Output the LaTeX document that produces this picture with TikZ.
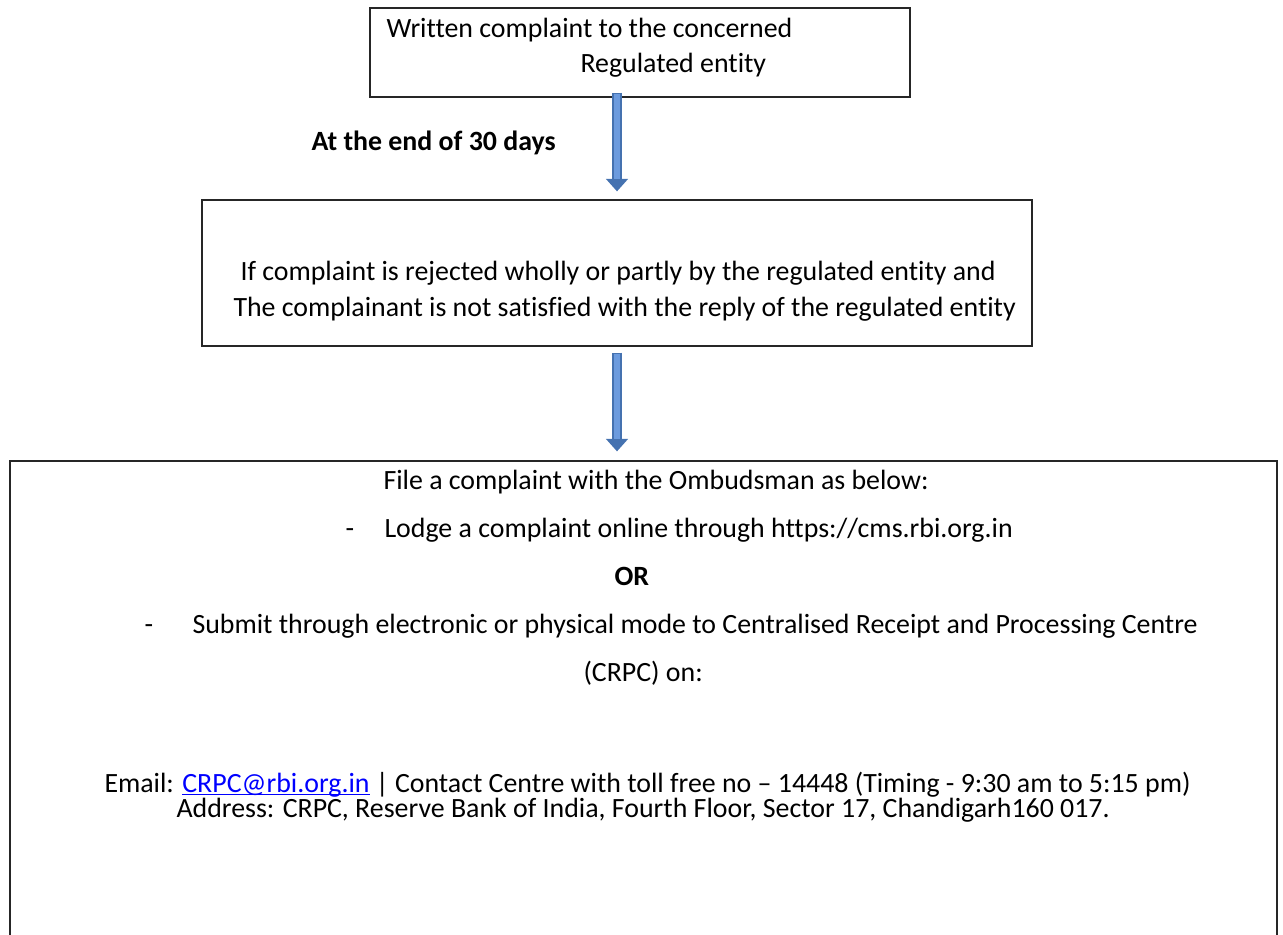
\documentclass[tikz,border=0pt]{standalone}
\usepackage{fontspec}
\setmainfont{Carlito}[RawFeature={-liga}]
\usetikzlibrary{arrows.meta}
\usetikzlibrary{positioning}
\definecolor{arrowblue}{RGB}{69,114,176}
\definecolor{arrowlight}{RGB}{108,155,222}
\definecolor{linkblue}{RGB}{0,0,255}
\newcommand{\mailunder}[1]{\leavevmode\setbox0\hbox{#1}\rlap{\rule[-1.3pt]{\wd0}{0.45pt}}\box0}

\begin{document}
\begin{tikzpicture}[x=0.4pt, y=-0.4pt,
box/.style={draw=black!85, line width=0.5pt, inner sep=0pt},
txt/.style={anchor=base west, inner sep=0pt, font=\fontsize{11.15}{13}\selectfont},
flow/.style={draw=arrowblue, line width=4.2pt, -{Triangle[width=8.6pt,length=5pt]}},
flowlight/.style={draw=arrowlight, line width=2.4pt}]
\useasboundingbox (0,0) rectangle (1283,934);

\node[box, minimum width=216pt, minimum height=35.6pt] (entity) at (640,52.5) {};
\node[box, minimum width=332pt, minimum height=58.4pt] (rejected) at (617,273) {};
\node[box, minimum width=506.8pt, minimum height=199.6pt] (ombudsman) at (643.5,710.5) {};

\node[txt] (written) at (386,37) {Written complaint to the concerned};
\node[txt] (regulated) at (580,72) {Regulated entity};
\node[txt, font=\fontsize{11.15}{13}\selectfont\bfseries] (days) at (311,150) {At the end of 30 days};

\node[txt] (ifrej) at (240,280) {If complaint is rejected wholly or partly by the regulated entity and};
\node[txt] (notsat) at (233,316) {The complainant is not satisfied with the reply of the regulated entity};

\node[txt] (file) at (383,489) {File a complaint with the Ombudsman as below:};
\node[txt] (dash1) at (345,537) {-};
\node[txt] (lodge) at (384,537) {Lodge a complaint online through https://cms.rbi.org.in};
\node[txt, font=\fontsize{11.15}{13}\selectfont\bfseries] (or) at (614,585) {OR};
\node[txt] (dash2) at (144,633) {-};
\node[txt] (submit) at (192,633) {Submit through electronic or physical mode to Centralised Receipt and Processing Centre};
\node[txt] (crpc) at (583,681) {(CRPC) on:};
\node[txt] (email) at (104,792) {Email: {\color{linkblue}\mailunder{CRPC@rbi.org.in}} | Contact Centre with toll free no – 14448 (Timing - 9:30 am to 5:15 pm)};
\node[txt] (address) at (176,817) {Address: CRPC, Reserve Bank of India, Fourth Floor, Sector 17, Chandigarh160 017.};

% arrows
\draw[flow, shorten <=-2pt, shorten >=3.2pt] (entity.south -| rejected.north) -- (rejected.north);
\draw[flowlight, shorten <=-1.6pt, shorten >=8pt] (entity.south -| rejected.north) -- (rejected.north);
\draw[flow, shorten <=2.4pt, shorten >=3.6pt] (rejected.south) -- (rejected.south |- ombudsman.north);
\draw[flowlight, shorten <=2.8pt, shorten >=8.4pt] (rejected.south) -- (rejected.south |- ombudsman.north);
\end{tikzpicture}
\end{document}
